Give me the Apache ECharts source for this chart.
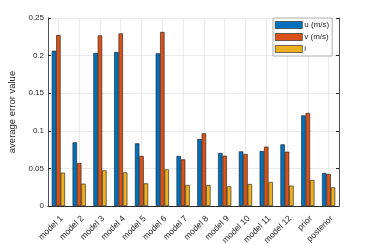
<!DOCTYPE html>
<html><head><meta charset="utf-8">
<script src="https://cdn.jsdelivr.net/npm/echarts@6/dist/echarts.min.js"></script>
<style>html,body{margin:0;padding:0;background:#fff}#c{width:374px;height:244px}</style>
</head><body><div id="c"></div>
<script>
const categories = ['model 1','model 2','model 3','model 4','model 5','model 6','model 7','model 8','model 9','model 10','model 11','model 12','prior','posterior'];
const uValues = [0.2065,0.0846,0.2035,0.2048,0.0833,0.2030,0.0665,0.0891,0.0705,0.0726,0.0731,0.0819,0.1205,0.0439];
const vValues = [0.2273,0.0572,0.2269,0.2295,0.0665,0.2314,0.0620,0.0966,0.0669,0.0691,0.0789,0.0722,0.1237,0.0426];
const iValues = [0.0443,0.0297,0.0473,0.0447,0.0301,0.0487,0.0279,0.0279,0.0261,0.0292,0.0319,0.0270,0.0346,0.0247];
const seriesNames = ['u (m/s)','v (m/s)','i'];
const yTicks = [0,0.05,0.1,0.15,0.2,0.25];

const chart = echarts.init(document.getElementById('c'), null, {renderer:'canvas'});
const axisColor = '#262626';
const font = 'Liberation Sans, Arial, sans-serif';
function bar(name, data, color){
  return {name, type:'bar', data, barWidth:4.4, barGap:'0%',
    itemStyle:{color, borderColor:'#1a1a1a', borderWidth:0.6}, xAxisIndex:0, yAxisIndex:0};
}
chart.setOption({
  animation:false,
  grid:{left:48, top:18, right:35, bottom:38, containLabel:false, outerBoundsMode:'none'},
  legend:{
    orient:'vertical', left:273, top:18, padding:[3,3,3,2],
    itemWidth:27, itemHeight:7, itemGap:4, icon:'rect',
    itemStyle:{borderWidth:0.6, borderColor:'#1a1a1a'},
    backgroundColor:'#fff', borderColor:'#9a9a9a', borderWidth:0.8, borderRadius:0,
    textStyle:{fontSize:8, color:axisColor, fontFamily:font, padding:[0,0,0,-3]},
    data:seriesNames
  },
  xAxis:[{
    type:'category', data:categories, position:'bottom',
    axisLine:{lineStyle:{color:axisColor, width:0.8}},
    axisTick:{alignWithLabel:true, inside:true, length:3, lineStyle:{color:axisColor}},
    splitLine:{show:true, alignWithLabel:true, lineStyle:{color:'#e6e6e6', width:0.8}},
    axisLabel:{rotate:45, fontSize:8.5, color:axisColor, fontFamily:font, margin:8, interval:0, verticalAlign:'top'}
  },{
    type:'category', data:categories, position:'top',
    axisLine:{lineStyle:{color:axisColor, width:0.8}},
    axisTick:{alignWithLabel:true, inside:true, length:3, lineStyle:{color:axisColor}},
    axisLabel:{show:false}, splitLine:{show:false}
  }],
  yAxis:[{
    type:'value', min:0, max:0.25, interval:0.05,
    name:'average error value', nameLocation:'middle', nameGap:24,
    nameTextStyle:{fontSize:9.5, color:axisColor, fontFamily:font},
    axisLine:{show:true, lineStyle:{color:axisColor, width:0.8}},
    axisTick:{show:true, inside:true, length:3, lineStyle:{color:axisColor}},
    splitLine:{show:true, lineStyle:{color:'#e6e6e6', width:0.8}},
    axisLabel:{fontSize:8, color:axisColor, fontFamily:font, margin:4,
      formatter:v=>String(+v.toFixed(2))}
  },{
    type:'value', min:0, max:0.25, interval:0.05, position:'right',
    axisLine:{show:true, lineStyle:{color:axisColor, width:0.8}},
    axisTick:{show:true, inside:true, length:3, lineStyle:{color:axisColor}},
    axisLabel:{show:false}, splitLine:{show:false}
  }],
  series:[
    bar(seriesNames[0], uValues, '#0072BD'),
    bar(seriesNames[1], vValues, '#D95319'),
    bar(seriesNames[2], iValues, '#EDB120')
  ]
});
</script></body></html>
